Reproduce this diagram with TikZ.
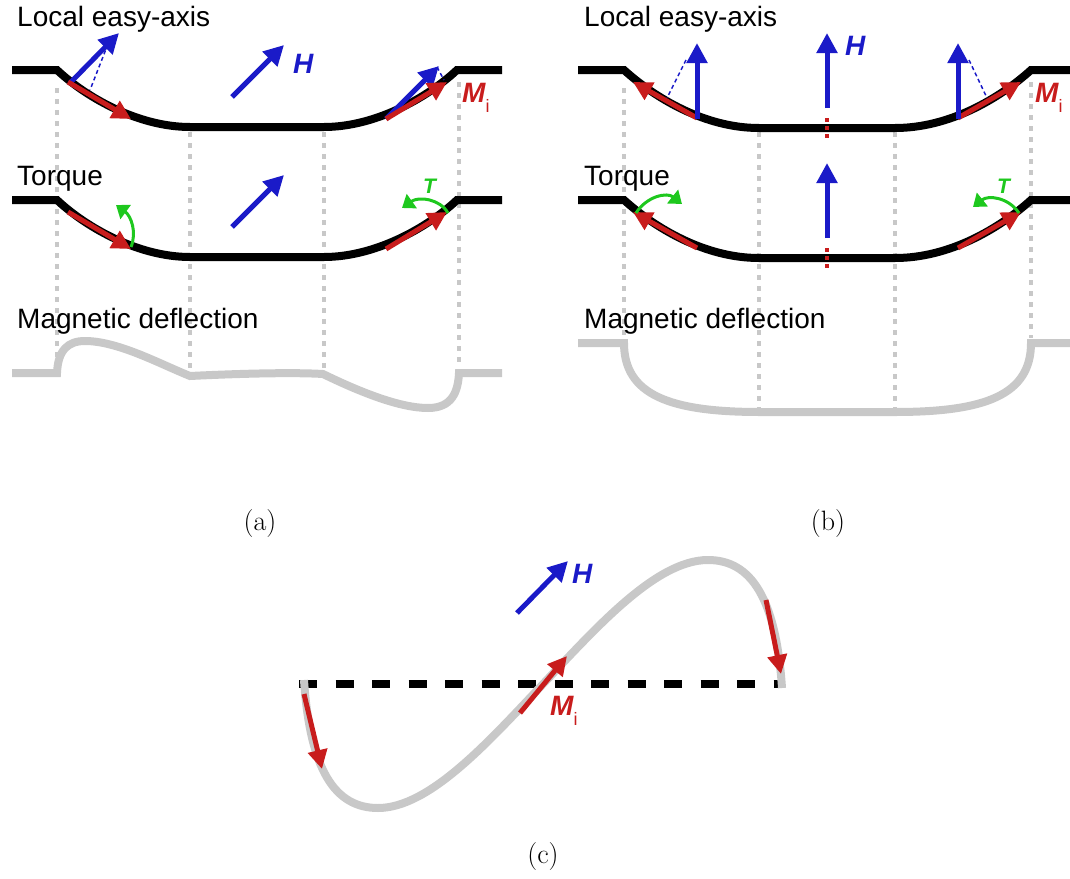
\documentclass[tikz,border=0pt]{standalone}
\usepackage{fontspec}
\usetikzlibrary{arrows.meta}
\newfontfamily\arialf{Liberation Sans}
\definecolor{myblue}{RGB}{26,26,200}
\definecolor{myred}{RGB}{200,28,28}
\definecolor{mygreen}{RGB}{30,200,30}
\definecolor{lgray}{RGB}{200,200,200}
\tikzset{
  curve/.style={line width=8pt, black},
  defl/.style={line width=8pt, lgray},
  guide/.style={line width=3.5pt, lgray, dash pattern=on 5pt off 6pt},
  bvec/.style={line width=5pt, myblue, -{Triangle[length=20pt,width=20pt]}},
  rvec/.style={line width=5pt, myred, -{Triangle[length=19pt,width=19pt]}},
  gtorq/.style={line width=3pt, mygreen, -{Triangle[length=12pt,width=17pt]}},
  proj/.style={line width=1.5pt, myblue, dash pattern=on 4pt off 3pt},
  mzero/.style={line width=4pt, myred, dash pattern=on 4pt off 4pt},
  lab/.style={font=\arialf\fontsize{28}{32}\selectfont, anchor=base west, inner sep=0pt},
  hlab/.style={font=\arialf\bfseries\itshape\fontsize{28}{32}\selectfont, text=myblue, anchor=base west, inner sep=0pt},
  mlab/.style={font=\arialf\bfseries\itshape\fontsize{28}{32}\selectfont, text=myred, anchor=base west, inner sep=0pt},
  tlab/.style={font=\arialf\bfseries\itshape\fontsize{21}{24}\selectfont, text=mygreen, anchor=base west, inner sep=0pt},
  captxt/.style={font=\fontsize{28}{32}\selectfont, anchor=base, inner sep=0pt},
}
\newcommand{\Mi}{M\raisebox{-10pt}{\mdseries\upshape\fontsize{18}{18}\selectfont i}}
\begin{document}
\begin{tikzpicture}[x=1pt,y=-1pt]
\useasboundingbox (0,0) rectangle (1070,878);

% ---------------- panel (a) ----------------
\draw[guide] (57,88) -- (57,360);
\draw[guide] (190,132) -- (190,374);
\draw[guide] (324,132) -- (324,372);
\draw[guide] (459,82) -- (459,366);

\node[lab] (aL1) at (17,27) {Local easy-axis};
\node[lab] (aL2) at (17,185) {Torque};
\node[lab] (aL3) at (17,328) {Magnetic deflection};

\draw[curve] (12,70) -- (57,70) .. controls (88,99) and (140,127) .. (190,127) -- (324,127) .. controls (374,127) and (426,99) .. (457,70) -- (502,70);
\draw[proj] (108,44) -- (90,90);
\draw[bvec] (70,83) -- (119,33);
\draw[rvec] (68,82) -- (131,119);
\draw[bvec] (386,119) -- (439,66);
\draw[proj] (437,67) -- (444,80);
\draw[rvec] (386,119) -- (447,82);
\draw[bvec] (232,97) -- (284,45);
\node[hlab] (aH) at (293,73) {H};
\node[mlab] (aM) at (462,102) {\Mi};

\draw[curve] (12,200) -- (57,200) .. controls (88,229) and (140,257) .. (190,257) -- (324,257) .. controls (374,257) and (426,229) .. (457,200) -- (502,200);
\draw[rvec] (68,212) -- (131,249);
\draw[rvec] (386,249) -- (447,212);
\draw[bvec] (232,227) -- (284,175);
\draw[gtorq] (131,247) .. controls (137,232) and (131,216) .. (116,205);
\draw[gtorq] (448,213) .. controls (440,199) and (419,196) .. (402,208);
\node[tlab] (aT) at (423,193) {T};

\draw[defl] (12,373) -- (57,373) .. controls (58,350) and (68,341) .. (85,341) .. controls (118,341) and (160,364) .. (190,376) .. controls (230,374) and (290,372) .. (323,374) .. controls (360,392) and (400,408) .. (428,408) .. controls (452,408) and (458,392) .. (459,373) -- (502,373);

\node[captxt] (capa) at (260,530) {(a)};

% ---------------- panel (b) ----------------
\draw[guide] (624,88) -- (624,337);
\draw[guide] (759,132) -- (759,408);
\draw[guide] (895,132) -- (895,408);
\draw[guide] (1031,82) -- (1031,338);

\node[lab] (bL1) at (584,27) {Local easy-axis};
\node[lab] (bL2) at (584,185) {Torque};
\node[lab] (bL3) at (584,328) {Magnetic deflection};

\draw[curve] (578,70) -- (624,70) .. controls (655,98) and (705,128) .. (759,128) -- (895,128) .. controls (950,128) and (1000,98) .. (1031,70) -- (1070,70);
\draw[proj] (686,60) -- (667,98);
\draw[proj] (969,60) -- (987,98);
\draw[rvec] (697,118) -- (633,82);
\draw[rvec] (958,118) -- (1021,82);
\draw[bvec] (697,119) -- (697,43);
\draw[bvec] (958,119) -- (958,43);
\draw[bvec] (827,108) -- (827,33);
\draw[mzero] (827,118) -- (827,138);
\node[hlab] (bH) at (845,55) {H};
\node[mlab] (bM) at (1035,102) {\Mi};

\draw[curve] (578,200) -- (624,200) .. controls (655,228) and (705,258) .. (759,258) -- (895,258) .. controls (950,258) and (1000,228) .. (1031,200) -- (1070,200);
\draw[rvec] (697,248) -- (633,212);
\draw[rvec] (958,248) -- (1021,212);
\draw[bvec] (827,238) -- (827,163);
\draw[mzero] (827,248) -- (827,268);
\draw[gtorq] (636,213) .. controls (647,196) and (667,192) .. (682,204);
\draw[gtorq] (1019,213) .. controls (1008,197) and (988,195) .. (973,207);
\node[tlab] (bT) at (997,193) {T};

\draw[defl] (578,343) -- (624,343) .. controls (624,395) and (670,412) .. (760,412) -- (895,412) .. controls (985,412) and (1031,395) .. (1031,343) -- (1070,343);

\node[captxt] (capb) at (828,530) {(b)};

% ---------------- panel (c) ----------------
\draw[line width=8pt, black, dash pattern=on 18.3pt off 18.2pt] (299,684) -- (785,684);
\draw[defl] (304,680) .. controls (310,770) and (335,808) .. (378,808) .. controls (430,808) and (490,740) .. (543,684) .. controls (596,628) and (656,560) .. (708,560) .. controls (751,560) and (776,598) .. (782,688);
\draw[rvec] (304,694) -- (322,769);
\draw[rvec] (520,713) -- (567,656);
\draw[rvec] (766,600) -- (781,674);
\draw[bvec] (517,613) -- (568,561);
\node[hlab] (cH) at (572,583) {H};
\node[mlab] (cM) at (550,715) {\Mi};

\node[captxt] (capc) at (543,863) {(c)};
\end{tikzpicture}
\end{document}
